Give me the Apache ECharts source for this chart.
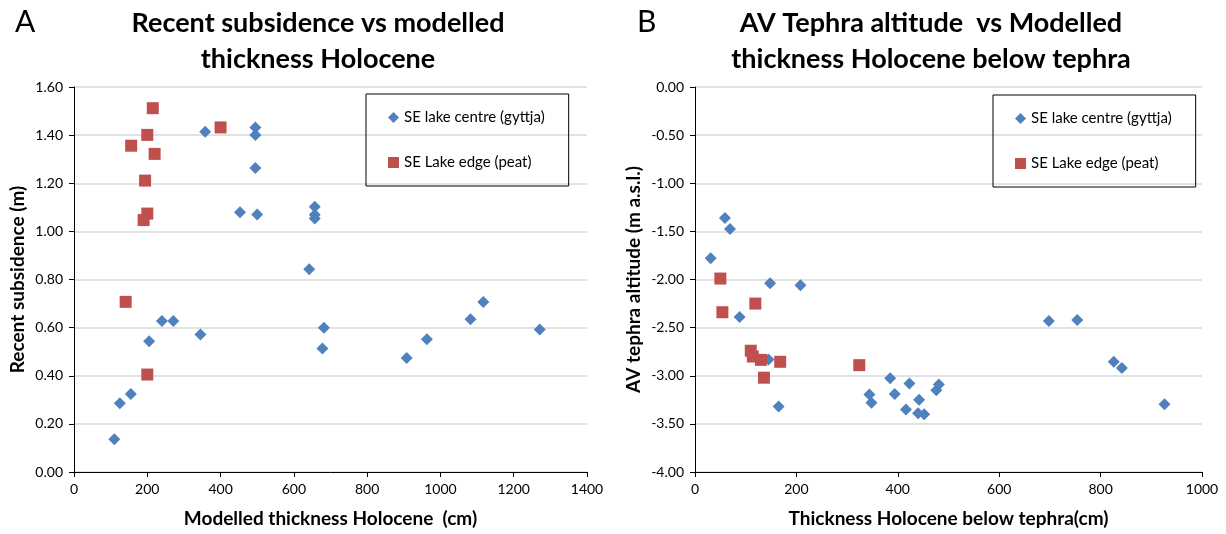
<!DOCTYPE html>
<html>
<head>
<meta charset="utf-8">
<script src="https://cdn.jsdelivr.net/npm/echarts@6/dist/echarts.min.js"></script>
<style>
  html, body { margin: 0; padding: 0; background: #fff; }
  #chart { width: 1226px; height: 534px; }
</style>
</head>
<body>
<div id="chart"></div>
<script>
// A: recent subsidence (m) vs modelled thickness Holocene (cm)
var centreA = [
    [110, 0.136], [125, 0.286], [155, 0.324], [205, 0.543], [240, 0.628],
    [271, 0.628], [345, 0.571], [358, 1.414], [453, 1.080], [500, 1.070],
    [495, 1.432], [495, 1.401], [495, 1.263], [657, 1.102], [657, 1.069],
    [657, 1.053], [642, 0.843], [682, 0.599], [678, 0.513], [908, 0.474],
    [963, 0.552], [1082, 0.635], [1117, 0.707], [1271, 0.592]
];
var edgeA = [
    [215, 1.512], [200, 1.401], [156, 1.356], [220, 1.322], [400, 1.432],
    [194, 1.211], [200, 1.074], [190, 1.047], [141, 0.707], [200, 0.405]
];

// B: AV tephra altitude (m a.s.l.) vs thickness Holocene below tephra (cm)
var centreB = [
    [59, -1.36], [69, -1.475], [31, -1.78], [148, -2.04], [208, -2.06],
    [88, -2.39], [145, -2.83], [165, -3.32], [385, -3.025], [344, -3.195],
    [348, -3.28], [394, -3.19], [423, -3.08], [416, -3.35], [442, -3.25],
    [440, -3.39], [452, -3.40], [481, -3.09], [476, -3.15], [698, -2.43],
    [754, -2.42], [826, -2.855], [842, -2.92], [926, -3.295]
];
var edgeB = [
    [50, -1.99], [54, -2.34], [119, -2.25], [110, -2.74], [114, -2.80],
    [130, -2.835], [168, -2.855], [136, -3.02], [324, -2.89]
];

var seriesNames = ['SE lake centre (gyttja)', 'SE Lake edge (peat)'];
var blue = '#4F81BD';
var red = '#C0504D';
var font = 'Lato';

var chart = echarts.init(document.getElementById('chart'));

function xAxisCfg(idx, max, interval, name) {
    return {
        type: 'value', gridIndex: idx, min: 0, max: max, interval: interval,
        name: name, nameLocation: 'middle', nameGap: 37,
        nameTextStyle: { fontFamily: font, fontSize: 19, fontWeight: 'bold', color: '#000' },
        axisLine: { onZero: false, lineStyle: { color: '#000', width: 1 } },
        axisTick: { show: true, length: 5, lineStyle: { color: '#000' } },
        axisLabel: {
            fontFamily: font, fontSize: 14, color: '#000', margin: 10,
            formatter: function (v) { return String(v); }
        },
        splitLine: { show: false }
    };
}

function yAxisCfg(idx, min, max, interval, name, gap) {
    return {
        type: 'value', gridIndex: idx, min: min, max: max, interval: interval,
        name: name, nameLocation: 'middle', nameGap: gap,
        nameTextStyle: { fontFamily: font, fontSize: 19, fontWeight: 'bold', color: '#000' },
        axisLine: { show: true, onZero: false, lineStyle: { color: '#000', width: 1 } },
        axisTick: { show: true, length: 5, lineStyle: { color: '#000' } },
        axisLabel: {
            fontFamily: font, fontSize: 14, color: '#000', margin: 11,
            formatter: function (v) { return v.toFixed(2); }
        },
        splitLine: { show: true, lineStyle: { color: '#D9D9D9', width: 1.5 } }
    };
}

function legendCfg(left, top) {
    return {
        left: left, top: top, orient: 'vertical',
        data: [
            { name: seriesNames[0], icon: 'diamond' },
            { name: seriesNames[1], icon: 'rect' }
        ],
        itemWidth: 11, itemHeight: 11, itemGap: 30,
        padding: [16, 24, 16, 22],
        borderColor: '#000', borderWidth: 1,
        textStyle: { fontFamily: font, fontSize: 15, color: '#000' }
    };
}

var option = {
    animation: false,
    backgroundColor: '#fff',
    title: [
        { text: 'A', left: 10, top: 2, textStyle: { fontFamily: font, fontSize: 30, fontWeight: 'normal', color: '#000' } },
        { text: 'B', left: 632, top: 2, textStyle: { fontFamily: font, fontSize: 30, fontWeight: 'normal', color: '#000' } },
        {
            text: 'Recent subsidence vs modelled\nthickness Holocene', left: 313, top: 0, textAlign: 'center',
            textStyle: { fontFamily: font, fontSize: 27, fontWeight: 'bold', color: '#000', lineHeight: 36 }
        },
        {
            text: 'AV Tephra altitude  vs Modelled\nthickness Holocene below tephra', left: 926, top: 0, textAlign: 'center',
            textStyle: { fontFamily: font, fontSize: 27, fontWeight: 'bold', color: '#000', lineHeight: 36 }
        }
    ],
    legend: [legendCfg(366, 94), legendCfg(993, 95)],
    grid: [
        { left: 74, top: 87, width: 513, height: 385 },
        { left: 695, top: 87, width: 507, height: 385 }
    ],
    xAxis: [
        xAxisCfg(0, 1400, 200, 'Modelled thickness Holocene  (cm)'),
        xAxisCfg(1, 1000, 200, 'Thickness Holocene below tephra(cm)')
    ],
    yAxis: [
        yAxisCfg(0, 0, 1.6, 0.2, 'Recent subsidence (m)', 47),
        yAxisCfg(1, -4, 0, 0.5, 'AV tephra altitude (m a.s.l.)', 52)
    ],
    series: [
        { name: seriesNames[0], type: 'scatter', xAxisIndex: 0, yAxisIndex: 0, data: centreA, symbol: 'diamond', symbolSize: 12, itemStyle: { color: blue, opacity: 1 } },
        { name: seriesNames[1], type: 'scatter', xAxisIndex: 0, yAxisIndex: 0, data: edgeA, symbol: 'rect', symbolSize: 12, itemStyle: { color: red, opacity: 1 } },
        { name: seriesNames[0], type: 'scatter', xAxisIndex: 1, yAxisIndex: 1, data: centreB, symbol: 'diamond', symbolSize: 12, itemStyle: { color: blue, opacity: 1 } },
        { name: seriesNames[1], type: 'scatter', xAxisIndex: 1, yAxisIndex: 1, data: edgeB, symbol: 'rect', symbolSize: 12, itemStyle: { color: red, opacity: 1 } }
    ]
};

chart.setOption(option);
window.addEventListener('resize', function () {
    chart.resize();
});
</script>
</body>
</html>
